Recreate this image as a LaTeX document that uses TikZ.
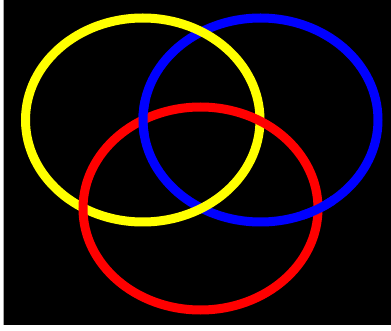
\documentclass[tikz,border=0pt]{standalone}
\definecolor{ringyellow}{RGB}{255,255,0}
\definecolor{ringblue}{RGB}{0,0,255}
\definecolor{ringred}{RGB}{255,0,0}
\tikzset{
  ring/.style={line width=9pt},
}
\begin{document}
\begin{tikzpicture}[x=1pt,y=-1pt]
\fill[white] (0,0) rectangle (391,331);
\useasboundingbox (0,0) rectangle (391,331);
\fill[black] (3,0) rectangle (391,325);
\draw[gray!70,line width=1pt] (3,0) -- (3,325);
% blue ring (bottom of stack)
\draw[ring,ringblue] (260.5,120) ellipse [x radius=117.5, y radius=102];
% yellow ring over blue
\draw[ring,ringyellow] (142.75,120) ellipse [x radius=117.25, y radius=102];
% red ring over yellow
\draw[ring,ringred] (200.5,208.5) ellipse [x radius=117.5, y radius=101.5];
% blue passes over red at both crossings
\begin{scope}
  \clip (142,118) circle [radius=18];
  \draw[ring,ringblue] (260.5,120) ellipse [x radius=117.5, y radius=102];
\end{scope}
\begin{scope}
  \clip (318,208) circle [radius=18];
  \draw[ring,ringblue] (260.5,120) ellipse [x radius=117.5, y radius=102];
\end{scope}
\end{tikzpicture}
\end{document}
